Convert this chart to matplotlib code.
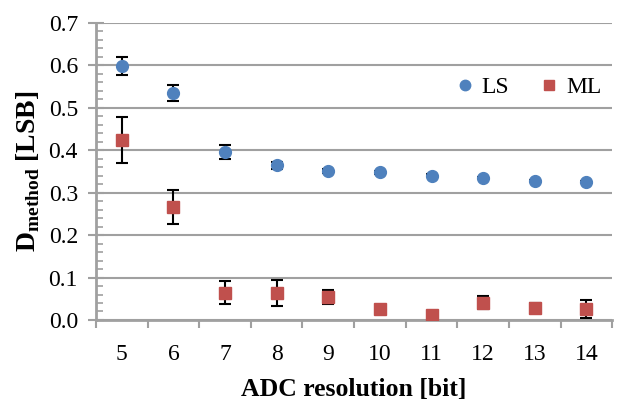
import numpy as np
import matplotlib.pyplot as plt
from matplotlib.lines import Line2D
from matplotlib.ticker import MultipleLocator, FixedLocator

plt.rcParams["font.family"] = ["Liberation Serif", "DejaVu Serif"]
plt.rcParams["mathtext.fontset"] = "custom"
plt.rcParams["mathtext.rm"] = "Liberation Serif"
plt.rcParams["mathtext.bf"] = "Liberation Serif:bold"

bits = [5, 6, 7, 8, 9, 10, 11, 12, 13, 14]
ls_vals = [0.599, 0.535, 0.396, 0.365, 0.352, 0.348, 0.340, 0.334, 0.327, 0.326]
ls_err = [0.021, 0.019, 0.016, 0.008, 0.005, 0.004, 0.003, 0.002, 0.002, 0.002]
ml_vals = [0.424, 0.267, 0.064, 0.064, 0.054, 0.026, 0.012, 0.041, 0.028, 0.026]
ml_err = [0.054, 0.040, 0.027, 0.030, 0.017, 0.008, 0.002, 0.016, 0.011, 0.022]

ls_color = "#4F81BD"
ml_color = "#C0504D"
grid_c = "#a0a0a0"

fig = plt.figure(figsize=(6.19, 4.03), dpi=100)
ax = fig.add_axes([0.155, 0.206, 0.834, 0.737])

x = np.arange(len(bits))

ax.errorbar(x, ls_vals, yerr=ls_err, fmt="o", color=ls_color, ms=8.5,
            ecolor="black", elinewidth=1.5, capsize=4.5, capthick=1.5, zorder=3)
ax.errorbar(x, ml_vals, yerr=ml_err, fmt="s", color=ml_color, ms=8.5,
            ecolor="black", elinewidth=1.5, capsize=4.5, capthick=1.5, zorder=3)

ax.set_xlim(-0.5, len(bits) - 0.5)
ax.set_ylim(0, 0.7)
ax.yaxis.set_major_locator(MultipleLocator(0.1))
ax.yaxis.set_minor_locator(MultipleLocator(0.02))
ax.yaxis.set_major_formatter(plt.FuncFormatter(lambda v, p: f"{v:.1f}"))
ax.yaxis.grid(True, which="major", color=grid_c, linewidth=1.5)
ax.set_axisbelow(True)

ax.set_xticks(x)
ax.set_xticklabels([str(b) for b in bits])
ax.xaxis.set_minor_locator(FixedLocator(np.arange(-0.5, len(bits), 1.0)))
ax.tick_params(axis="x", which="major", length=0, labelsize=17, pad=17)
ax.tick_params(axis="x", which="minor", length=6, width=1.5, color=grid_c, direction="out")
ax.tick_params(axis="y", which="major", length=12, width=1.5, color=grid_c,
               direction="inout", labelsize=17, pad=7)
ax.tick_params(axis="y", which="minor", length=5, width=1.2, color=grid_c, direction="in")

for s in ["top", "right"]:
    ax.spines[s].set_visible(False)
for s in ["left", "bottom"]:
    ax.spines[s].set_color(grid_c)
    ax.spines[s].set_linewidth(2)

ax.set_xlabel("ADC resolution [bit]", fontsize=18.5, fontweight="bold", labelpad=10)
ax.set_ylabel(r"D$_{\mathbf{method}}$ [LSB]", fontsize=20, fontweight="bold", labelpad=5)

handles = [
    Line2D([], [], ls="none", marker="o", color=ls_color, ms=7.5),
    Line2D([], [], ls="none", marker="s", color=ml_color, ms=7.5),
]
ax.legend(handles, ["LS", "ML"], loc="upper right", bbox_to_anchor=(1.02, 0.89), ncol=2,
          frameon=False, fontsize=17, handletextpad=0.1, columnspacing=1.1,
          handlelength=1.2)

fig.savefig("out.png", dpi=100, facecolor="white")
